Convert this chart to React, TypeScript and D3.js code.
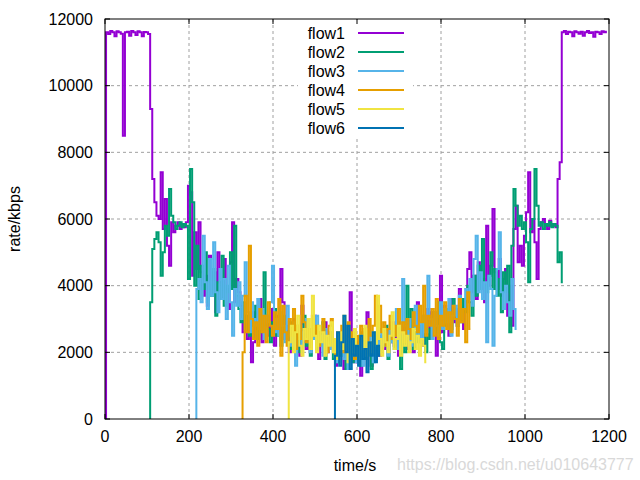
import React from "react";
import * as d3 from "d3";

const xTicks = [0, 200, 400, 600, 800, 1000, 1200];
const yTicks = [0, 2000, 4000, 6000, 8000, 10000, 12000];
const seriesNames = ["flow1", "flow2", "flow3", "flow4", "flow5", "flow6"];
const seriesColors = ["#9400d3", "#009e73", "#56b4e9", "#e69f00", "#f0e442", "#0072b2"];
const seriesStart = [0, 105, 215, 325, 435, 545];
const sampleStep = 5;

// flow1: t = 0 .. 1195
const flow1 = [
  0, 11600, 11550, 11640, 11600, 11480, 11630, 11600, 11560, 8500,
  11600, 11620, 11500, 11640, 11600, 11520, 11630, 11600, 11480, 11610,
  11600, 11550, 9300, 7200, 6500, 6100, 6000, 7400, 5700, 6600,
  5200, 4600, 5900, 5600, 5800, 5900, 5700, 5850, 5750, 5900,
  7000, 6800, 4300, 5600, 4500, 5900, 4400, 3700, 4300, 3400,
  4900, 3900, 4400, 3200, 5000, 4100, 3600, 4800, 3900, 3300,
  4700, 5900, 3500, 4200, 3800, 3400, 2600, 3100, 2400, 2900,
  1700, 2300, 3200, 2700, 3600, 2300, 2800, 3000, 2500, 3300,
  2600, 2200, 3100, 2700, 4500, 3500, 2400, 2800, 2000, 2500,
  3000, 2200, 2600, 1900, 3400, 2300, 2100, 2700, 2000, 2400,
  3100, 2200, 1800, 2600, 2300, 2900, 2000, 2500, 2200, 2100,
  1600, 2400, 1900, 2200, 1500, 2000, 2300, 3800, 2100, 1700,
  2300, 1900, 1300, 2200, 1800, 3200, 2000, 1600, 2300, 1800,
  2600, 1900, 2400, 2100, 2700, 2000, 2300, 2900, 2200, 2500,
  1900, 2600, 2300, 2800, 2100, 2400, 2700, 2000, 2500, 3500,
  2300, 2600, 2200, 2700, 3300, 2400, 3200, 2800, 1900, 3000,
  4300, 2600, 3400, 3100, 2500, 3600, 2900, 3300, 2800, 3900,
  3000, 2700, 3500, 4500, 5000, 3800, 4300, 3600, 4700, 3900,
  4200, 3500, 5800, 4000, 4600, 6300, 4400, 3900, 4800, 3700,
  4200, 4500, 3100, 4000, 2800, 5700, 6400, 4700, 5200, 4600,
  5500, 6200, 7400, 5600, 6000, 5300, 4200, 5700, 5900, 6000,
  5800, 5700, 5950, 5800, 5850, 5750, 7200, 7700, 11600, 11640,
  11550, 11620, 11600, 11480, 11630, 11600, 11560, 11620, 11500, 11600,
  11640, 11580, 11600, 11470, 11620, 11600, 11550, 11630, 11600, 11620,
];

// flow2: t = 105 .. 1090
const flow2 = [
  0, 3500, 5100, 5400, 5600, 5300, 4300, 5000, 5800, 5500,
  6900, 6100, 5900, 5700, 5800, 5900, 5750, 5850, 5800, 4200,
  7500, 6500, 4000, 5200, 3600, 4600, 3900, 5000, 3500, 4200,
  3700, 4500, 3100, 4100, 3600, 4900, 3400, 4000, 3800, 5000,
  3900, 5800, 3700, 3300, 2900, 3500, 2700, 3100, 2500, 3200,
  2800, 3400, 2400, 3000, 2600, 4400, 3100, 2700, 2300, 2900,
  3300, 2500, 2800, 2200, 3100, 2600, 2400, 2900, 2100, 2700,
  2300, 2800, 2000, 2500, 3100, 2200, 2600, 1900, 2400, 2700,
  2100, 2500, 2300, 2900, 1800, 2400, 2200, 2600, 1800, 2300,
  1700, 2100, 1900, 2500, 1500, 2000, 2200, 1700, 2400, 1900,
  2100, 1600, 2600, 1800, 2000, 2300, 1500, 2200, 1900, 2400,
  2000, 2500, 2200, 2800, 1800, 2400, 2600, 2100, 2300, 2900,
  1500, 2500, 2000, 4000, 2400, 3300, 2100, 2600, 2300, 2800,
  2500, 3100, 2000, 2700, 2400, 2900, 3200, 2600, 3500, 2300,
  2100, 2800, 3300, 3000, 2700, 3600, 3100, 2800, 3400, 2900,
  3600, 3200, 4000, 3500, 3100, 4300, 3700, 4600, 3900, 5400,
  4000, 3800, 4300, 5000, 3900, 4500, 3700, 4200, 3200, 4400,
  3800, 4600, 2600, 5200, 6900, 6400, 5800, 6100, 5700, 5900,
  5300, 4100, 5700, 6000, 7500, 6400, 5800, 5900, 5700, 5850,
  5800, 5900, 5750, 5850, 5800, 4700, 5000, 4100,
];

// flow3: t = 215 .. 980
const flow3 = [
  0, 3900, 4200, 3500, 5500, 4100, 3300, 4800, 3700, 5300,
  3800, 3200, 4500, 3600, 4200, 3000, 4600, 3500, 2500, 3900,
  3400, 4100, 3000, 3700, 4700, 3200, 2600, 3500, 3000, 2800,
  3600, 2700, 3300, 2400, 3100, 2900, 3500, 4600, 2600, 3000,
  2500, 3200, 2800, 2300, 3400, 2700, 2200, 2900, 1600, 2500,
  2800, 2100, 2600, 3000, 2300, 2000, 2700, 2400, 3100, 2200,
  2500, 1900, 2700, 2300, 2100, 2600, 2000, 2400, 1700, 2200,
  2600, 1800, 2100, 1500, 2300, 1900, 2400, 1700, 2000, 2200,
  1600, 2300, 1900, 2600, 2100, 1700, 2200, 2500, 2000, 2700,
  2200, 2600, 1900, 2800, 2300, 2500, 3300, 2100, 2600, 4200,
  2800, 2400, 3000, 2200, 2700, 3400, 2500, 2900, 2300, 3100,
  2600, 4300, 3000, 2400, 3200, 2800, 2500, 3500, 2700, 3300,
  2900, 3600, 2500, 3100, 3400, 2800, 3700, 3000, 3300, 3900,
  3600, 4200, 3400, 4800, 5500, 3800, 4400, 3600, 4100, 2300,
  4300, 3900, 2200, 3700, 4500, 5600, 3800, 3300, 4000, 3500,
  3100, 4200, 3300, 2700,
];

// flow4: t = 325 .. 870
const flow4 = [
  0, 2000, 3700, 2600, 5200, 3000, 2400, 2900, 2200, 3300,
  2600, 3100, 2300, 3500, 2800, 2500, 3200, 2700, 3600, 1900,
  3400, 2600, 2200, 3000, 2500, 3300, 2100, 2800, 2400, 3700,
  2900, 2300, 2700, 2100, 3100, 2500, 2800, 2200, 2600, 3000,
  2400, 2000, 2800, 3000, 2300, 1900, 2600, 2200, 2800, 2000,
  2400, 2900, 2100, 2600, 1800, 2500, 2200, 2800, 2400, 2700,
  2300, 3000, 2500, 2800, 3700, 2400, 3400, 2600, 2900, 2200,
  2700, 3100, 2400, 2800, 2500, 3300, 2600, 2900, 2300, 3000,
  2700, 2400, 3200, 2800, 2600, 3400, 2900, 4000, 2500, 3100,
  2800, 3300, 2500, 3600, 2400, 3100, 2800, 3500, 2700, 3200,
  2600, 3400, 3000, 2500, 3600, 2900, 3300, 2300, 3800, 2700,
];

// flow5: t = 435 .. 765
const flow5 = [
  0, 2300, 2800, 2000, 2600, 3100, 2200, 1900, 2700, 2400,
  3000, 2100, 3700, 2500, 2000, 2800, 2300, 2600, 1900, 2500,
  2200, 2900, 2000, 2400, 1800, 2600, 2100, 3100, 2300, 1700,
  2400, 2000, 2700, 2200, 1800, 2500, 2100, 2800, 1900, 2300,
  2000, 2600, 2200, 3700, 2400, 1900, 2700, 2300, 2000, 2500,
  3200, 2100, 2400, 2800, 1900, 2600, 2200, 2500, 2000, 2300,
  2700, 2100, 2500, 1900, 2400, 2200, 1700,
];

// flow6: t = 545 .. 655
const flow6 = [
  0, 1900, 2600, 1600, 2300, 3100, 2000, 2800, 1500, 2400,
  1900, 2200, 1600, 2500, 1800, 2100, 1400, 2300, 1900, 2600,
  1700, 2200, 1900,
];

const seriesValues = [flow1, flow2, flow3, flow4, flow5, flow6];

const FONT = "'Liberation Sans', Arial, Helvetica, sans-serif";

export default function App() {
  const W = 640;
  const H = 480;
  const left = 105, right = 609, top = 19, bottom = 419;
  const x = d3.scaleLinear().domain([0, 1200]).range([left, right]);
  const y = d3.scaleLinear().domain([0, 12000]).range([bottom, top]);

  const paths = seriesValues.map((vals, s) => {
    const pts: [number, number][] = vals.map((v, i) => [seriesStart[s] + i * sampleStep, v]);
    const gen = d3
      .line<[number, number]>()
      .x((d) => x(d[0]))
      .y((d) => y(d[1]))
      .curve(d3.curveStep);
    return gen(pts) || "";
  });

  const tickLen = 5;
  const legendX0 = 358, legendX1 = 404, legendTextX = 345, legendY0 = 33, legendDy = 19;

  return (
    <svg
      width={W}
      height={H}
      viewBox={`0 0 ${W} ${H}`}
      style={{ position: "absolute", left: 0, top: 0, background: "#fff" }}
      fontFamily={FONT}
    >
      <rect x={0} y={0} width={W} height={H} fill="#fff" />
      <defs>
        <clipPath id="plotclip">
          <rect x={left - 2} y={top} width={right - left + 2} height={bottom - top} />
        </clipPath>
      </defs>
      {/* grid */}
      <g stroke="#a0a0a0" strokeWidth={1} strokeDasharray="3,3">
        {xTicks.slice(1, -1).map((t) => (
          <line key={"gx" + t} x1={x(t)} x2={x(t)} y1={top} y2={bottom} />
        ))}
        {yTicks.slice(1, -1).map((t) => (
          <line key={"gy" + t} x1={left} x2={right} y1={y(t)} y2={y(t)} />
        ))}
      </g>
      {/* legend background (opaque key) */}
      <rect x={298} y={top + 1} width={115} height={118} fill="#fff" />
      {/* data */}
      <g clipPath="url(#plotclip)" fill="none" strokeWidth={2} strokeLinejoin="miter">
        {paths.map((d, i) => (
          <path key={seriesNames[i]} d={d} stroke={seriesColors[i]} />
        ))}
      </g>
      {/* legend */}
      <g fontSize={16}>
        {seriesNames.map((n, i) => (
          <g key={"lg" + n}>
            <text x={legendTextX} y={legendY0 + i * legendDy} dy="0.35em" textAnchor="end" fill="#000">
              {n}
            </text>
            <line
              x1={legendX0}
              x2={legendX1}
              y1={legendY0 + i * legendDy}
              y2={legendY0 + i * legendDy}
              stroke={seriesColors[i]}
              strokeWidth={2}
            />
          </g>
        ))}
      </g>
      {/* border */}
      <rect x={left} y={top} width={right - left} height={bottom - top} fill="none" stroke="#000" strokeWidth={1} />
      {/* ticks */}
      <g stroke="#000" strokeWidth={1}>
        {xTicks.map((t) => (
          <g key={"tx" + t}>
            <line x1={x(t)} x2={x(t)} y1={bottom} y2={bottom - tickLen} />
            <line x1={x(t)} x2={x(t)} y1={top} y2={top + tickLen} />
          </g>
        ))}
        {yTicks.map((t) => (
          <g key={"ty" + t}>
            <line x1={left} x2={left + tickLen} y1={y(t)} y2={y(t)} />
            <line x1={right} x2={right - tickLen} y1={y(t)} y2={y(t)} />
          </g>
        ))}
      </g>
      {/* tick labels */}
      <g fontSize={16} fill="#000">
        {xTicks.map((t) => (
          <text key={"lx" + t} x={x(t)} y={442} textAnchor="middle">
            {t}
          </text>
        ))}
        {yTicks.map((t) => (
          <text key={"ly" + t} x={93} y={y(t)} dy="0.35em" textAnchor="end">
            {t}
          </text>
        ))}
      </g>
      {/* axis titles */}
      <text x={355} y={471} fontSize={16} textAnchor="middle" fill="#000">
        time/s
      </text>
      <text transform="translate(20,219) rotate(-90)" fontSize={16} textAnchor="middle" fill="#000">
        rate/kbps
      </text>
      {/* watermark */}
      <text x={397} y={470} fontSize={16} fill="#d9d9d9">
        https://blog.csdn.net/u010643777
      </text>
    </svg>
  );
}
